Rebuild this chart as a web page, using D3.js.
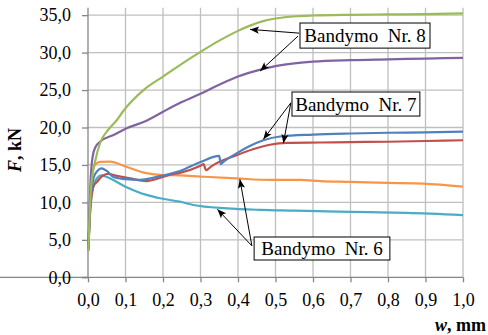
<!DOCTYPE html>
<html>
<head>
<meta charset="utf-8">
<script src="https://cdn.jsdelivr.net/npm/d3@7"></script>
<style>
  html, body { margin: 0; padding: 0; background: #fff; }
  svg { display: block; }
  svg text { font-family: "Liberation Serif", "Times New Roman", serif; fill: #000; }
</style>
</head>
<body>
<svg id="chart" width="488" height="335"></svg>
<script>
// Load–displacement curves (w in mm, F in kN)
const greenW  = [0.001,0.008,0.02,0.032,0.054,0.077,0.094,0.148,0.2,0.25,0.3,0.35,0.4,0.432,0.467,0.5,0.556,0.6,0.7,0.8,0.9,1.0];
const greenF  = [3.6,12,15.7,17.9,19.7,21,22.2,25.0,26.8,28.5,30.1,31.6,32.9,33.6,34.2,34.55,34.85,34.95,35.05,35.1,35.15,35.25];

const purpleW = [0.001,0.006,0.012,0.02,0.032,0.068,0.103,0.156,0.2,0.25,0.3,0.35,0.4,0.45,0.5,0.556,0.6,0.7,0.8,0.9,1.0];
const purpleF = [3.6,12,16,17.4,18.1,19.0,19.9,20.9,22.1,23.4,24.5,25.7,26.8,27.6,28.2,28.6,28.8,29.0,29.1,29.2,29.3];

const blueW   = [0.001,0.006,0.015,0.025,0.036,0.05,0.068,0.1,0.139,0.192,0.245,0.3,0.35,0.354,0.361,0.396,0.43,0.468,0.512,0.6,0.7,0.8,0.9,1.0];
const blueF   = [4,10,13.3,14.2,14.55,14.2,13.4,13.1,13.0,13.5,14.2,15.4,16.2,15.1,15.4,16.55,17.5,18.3,18.8,19.05,19.2,19.3,19.35,19.45];

const redW    = [0.001,0.006,0.015,0.025,0.04,0.055,0.068,0.112,0.156,0.2,0.219,0.245,0.3,0.308,0.315,0.33,0.396,0.44,0.485,0.53,0.62,0.7,0.8,0.9,1.0];
const redF    = [4,9,12.2,12.8,13.6,13.8,13.65,13.2,12.85,13.4,13.7,13.95,14.9,15.1,14.3,14.85,16.3,17.1,17.7,17.95,18.0,18.05,18.1,18.2,18.3];

const orangeW = [0.001,0.006,0.012,0.02,0.032,0.059,0.1,0.156,0.2,0.245,0.3,0.396,0.485,0.565,0.62,0.7,0.8,0.894,1.0];
const orangeF = [3.5,10,14,15.1,15.4,15.45,14.8,13.9,13.65,13.6,13.45,13.2,13.0,13.0,12.85,12.75,12.6,12.5,12.1];

const tealW   = [0.001,0.006,0.015,0.025,0.035,0.05,0.1,0.156,0.192,0.245,0.281,0.37,0.459,0.55,0.636,0.75,0.85,1.0];
const tealF   = [4,9,12.3,13.3,13.6,13.4,12.1,11.0,10.55,10.1,9.65,9.2,9.0,8.9,8.8,8.7,8.6,8.3];

const seriesList = [
  { w: orangeW, f: orangeF, color: "#f79646" },
  { w: tealW,   f: tealF,   color: "#4bacc6" },
  { w: redW,    f: redF,    color: "#c0504d" },
  { w: blueW,   f: blueF,   color: "#4f81bd" },
  { w: purpleW, f: purpleF, color: "#8064a2" },
  { w: greenW,  f: greenF,  color: "#9bbb59" }
];

const xTicks = [0,0.1,0.2,0.3,0.4,0.5,0.6,0.7,0.8,0.9,1.0];
const yTicks = [0,5,10,15,20,25,30,35];

// Callout boxes (corners in data units) and arrows (from -> to, data units)
const callouts = [
  { label: "Bandymo  Nr. 8", w0: 0.5653, f0: 33.95, w1: 0.912, f1: 30.6,
    arrows: [[0.563,32.6,0.432,33.1],[0.56,32.2,0.459,27.54]] },
  { label: "Bandymo  Nr. 7", w0: 0.544, f0: 24.74, w1: 0.885, f1: 21.53,
    arrows: [[0.541,23.3,0.4675,18.42],[0.541,23.3,0.521,17.89]] },
  { label: "Bandymo  Nr. 6", w0: 0.443, f0: 5.38, w1: 0.805, f1: 2.31,
    arrows: [[0.437,4.2,0.405,13.08],[0.437,4.2,0.345,9.08]] }
];

const FONT = '"Liberation Serif", "Times New Roman", serif';

const svg = d3.select("#chart");
const x = d3.scaleLinear().domain([0, 1]).range([88, 463]);
const y = d3.scaleLinear().domain([0, 36]).range([277.3, 7.66]);

// grid
const grid = svg.append("g");
grid.selectAll("line.v").data(xTicks.slice(1)).join("line")
  .attr("x1", d => x(d)).attr("x2", d => x(d))
  .attr("y1", y(36)).attr("y2", y(0))
  .attr("stroke", "#bfbfbf").attr("stroke-width", 1.3);
grid.selectAll("line.h").data(yTicks.slice(1)).join("line")
  .attr("x1", x(0)).attr("x2", x(1))
  .attr("y1", d => y(d)).attr("y2", d => y(d))
  .attr("stroke", "#bfbfbf").attr("stroke-width", 1.3);

// axes
const fmt = d => d3.format(".1f")(d).replace(".", ",");
const xAxis = svg.append("g").attr("transform", `translate(0,${y(0)})`)
  .call(d3.axisBottom(x).tickValues(xTicks).tickFormat(fmt).tickSize(5).tickPadding(11));
const yAxis = svg.append("g").attr("transform", `translate(${x(0)},0)`)
  .call(d3.axisLeft(y).tickValues(yTicks).tickFormat(fmt).tickSize(6).tickPadding(11));
[xAxis, yAxis].forEach(a => {
  a.attr("font-family", null).attr("font-size", null);
  a.select(".domain").attr("stroke", "#868686").attr("stroke-width", 1.3);
  a.selectAll(".tick line").attr("stroke", "#868686").attr("stroke-width", 1.3);
  a.selectAll("text").style("font-family", FONT).attr("font-size", 18).attr("fill", "#000");
});
yAxis.select(".domain").attr("d", `M-6,${y(0)}H0V${y(36)}`);
xAxis.select(".domain").attr("d", `M0,0H${x(1)}`);

// curves
const line = d3.line().x(d => x(d[0])).y(d => y(d[1])).curve(d3.curveMonotoneX);
svg.append("g").selectAll("path").data(seriesList).join("path")
  .attr("d", s => line(s.w.map((w, i) => [w, s.f[i]])))
  .attr("fill", "none").attr("stroke", s => s.color)
  .attr("stroke-width", 2.2).attr("stroke-linejoin", "round");

// arrowhead
svg.append("defs").append("marker")
  .attr("id", "arr").attr("viewBox", "-10 -5 12 10")
  .attr("refX", 0).attr("refY", 0)
  .attr("markerWidth", 12).attr("markerHeight", 10)
  .attr("markerUnits", "userSpaceOnUse").attr("orient", "auto")
  .append("path").attr("d", "M0,0L-9,-3.6L-7,0L-9,3.6Z").attr("fill", "#000");

const ann = svg.append("g");
callouts.forEach(c => {
  c.arrows.forEach(a => {
    ann.append("line")
      .attr("x1", x(a[0])).attr("y1", y(a[1]))
      .attr("x2", x(a[2])).attr("y2", y(a[3]))
      .attr("stroke", "#000").attr("stroke-width", 1)
      .attr("marker-end", "url(#arr)");
  });
});
callouts.forEach(c => {
  const bx = x(c.w0), by = y(c.f0), bw = x(c.w1) - bx, bh = y(c.f1) - by;
  ann.append("rect").attr("x", bx).attr("y", by).attr("width", bw).attr("height", bh)
    .attr("fill", "#fff").attr("stroke", "#000").attr("stroke-width", 1);
  ann.append("text").attr("x", bx + bw / 2).attr("y", by + bh / 2 + 6.5)
    .attr("text-anchor", "middle").attr("font-size", 19).style("font-family", FONT)
    .style("white-space", "pre").text(c.label);
});

// axis titles
const yt = svg.append("text").attr("transform", "translate(21,150) rotate(-90)")
  .attr("text-anchor", "middle").attr("font-size", 18).attr("font-weight", "bold")
  .style("font-family", FONT);
yt.append("tspan").attr("font-style", "italic").text("F");
yt.append("tspan").text(", kN");

const xt = svg.append("text").attr("x", 435).attr("y", 331)
  .attr("font-size", 18).attr("font-weight", "bold").style("font-family", FONT);
xt.append("tspan").attr("font-style", "italic").text("w");
xt.append("tspan").text(", mm");
</script>
</body>
</html>
